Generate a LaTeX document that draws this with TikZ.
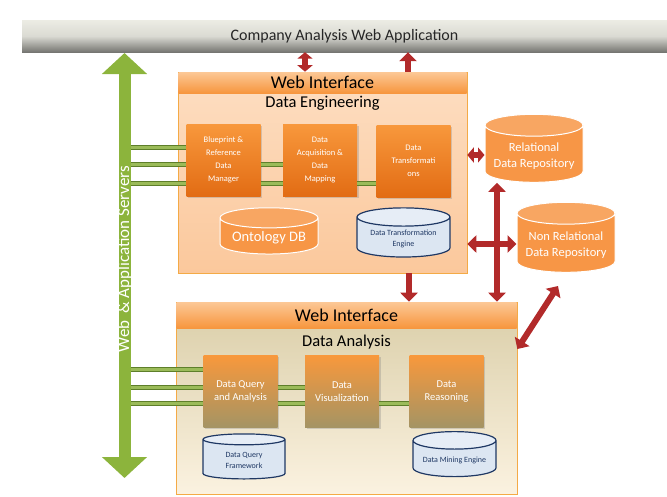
\documentclass[tikz,border=0pt]{standalone}
\usepackage{fontspec}
\setmainfont{Carlito}
\usetikzlibrary{arrows.meta,shapes.geometric,shadows}

\definecolor{barLight}{RGB}{236,236,228}
\definecolor{barDark}{RGB}{118,118,114}
\definecolor{panelLine}{RGB}{244,170,70}
\definecolor{peachTop}{RGB}{253,222,194}
\definecolor{peachBot}{RGB}{251,200,156}
\definecolor{headTop}{RGB}{252,200,150}
\definecolor{headBot}{RGB}{247,150,62}
\definecolor{khakiTop}{RGB}{218,206,168}
\definecolor{khakiBot}{RGB}{251,242,224}
\definecolor{modTop}{RGB}{248,152,60}
\definecolor{modBot}{RGB}{226,108,20}
\definecolor{oliveBot}{RGB}{164,148,100}
\definecolor{dbOrange}{RGB}{247,150,70}
\definecolor{dbBlue}{RGB}{220,230,242}
\definecolor{dbNavy}{RGB}{31,56,100}
\definecolor{linkDark}{RGB}{94,127,42}
\definecolor{linkLight}{RGB}{155,187,89}
\definecolor{srvGreen}{RGB}{140,180,60}
\definecolor{flowRed}{RGB}{178,42,42}

\tikzset{
  appbar/.style={rectangle, minimum width=645, minimum height=32,
    top color=barLight, bottom color=barDark, middle color=barLight!85!barDark,
    font=\fontsize{16}{18}\selectfont, text=black!85},
  panel/.style={rectangle, draw=panelLine, line width=0.6pt},
  header/.style={rectangle, top color=headTop, bottom color=headBot,
    font=\fontsize{18}{20}\selectfont},
  title/.style={font=\fontsize{16.5}{18}\selectfont},
  module/.style={rectangle, minimum width=74, minimum height=72, align=center,
    text=white, font=\fontsize{8.5}{13}\selectfont, top color=modTop, bottom color=modBot,
    drop shadow={shadow xshift=1.5pt, shadow yshift=-1.5pt, opacity=.3}},
  amodule/.style={module, top color=modTop, bottom color=oliveBot,
    font=\fontsize{10.5}{13}\selectfont},
  orangedb/.style={cylinder, shape border rotate=90, aspect=0.25, draw=white,
    line width=1pt, cylinder uses custom fill, cylinder body fill=dbOrange,
    cylinder end fill=dbOrange!85!white, text=white, align=center,
    font=\fontsize{12.5}{16}\selectfont},
  bluedb/.style={cylinder, shape border rotate=90, aspect=0.25, draw=dbNavy,
    line width=1.2pt, cylinder uses custom fill, cylinder body fill=dbBlue,
    cylinder end fill=dbBlue!70!white, text=dbNavy, align=center,
    font=\fontsize{8}{11}\selectfont},
  link/.style={draw=linkDark, line width=1pt, double=linkLight, double distance=3pt},
  flow/.style={draw=flowRed, line width=6pt, -{Triangle[width=17pt,length=9pt]}},
  flow2/.style={flow, {Triangle[width=17pt,length=9pt]}-{Triangle[width=17pt,length=9pt]}},
  flowshort/.style={flow, {Triangle[width=15pt,length=6.5pt]}-{Triangle[width=15pt,length=6.5pt]}},
}

\begin{document}
\begin{tikzpicture}[x=1pt,y=-1pt]
  \useasboundingbox (0,0) rectangle (667,496);

  % application bar on top
  \node[appbar] (app) at (344.5,36) {Company Analysis Web Application};

  % data engineering panel
  \node[panel, top color=peachTop, bottom color=peachBot, minimum width=289, minimum height=201] (de) at (322.5,172.5) {};
  \node[header, minimum width=288, minimum height=21] (deweb) at (322.5,82.5) {Web Interface};
  \node[title] (detitle) at (322.5,103) {Data Engineering};
  \node[module] (bp) at (223.5,160) {Blueprint \&\\Reference\\Data\\Manager};
  \node[module] (daq) at (320,160) {Data\\Acquisition \&\\Data\\Mapping};
  \node[module] (dtr) at (413.5,161) {Data\\Transformati\\ons};
  \node[orangedb, minimum width=98, minimum height=30, font=\fontsize{14.5}{16}\selectfont] (onto) at (269,238) {Ontology DB};
  \node[bluedb, minimum width=93, minimum height=36] (dte) at (403.5,239) {Data Transformation\\Engine};

  % repositories
  \node[orangedb, minimum width=98, minimum height=68] (rel) at (534,156) {Relational\\Data Repository};
  \node[orangedb, minimum width=98, minimum height=70] (nrel) at (566,245) {Non Relational\\Data Repository};

  % data analysis panel
  \node[panel, top color=khakiTop, bottom color=khakiBot, minimum width=341, minimum height=192] (da) at (346.5,398) {};
  \node[header, minimum width=340, minimum height=26] (daweb) at (346.5,315) {Web Interface};
  \node[title] (datitle) at (346.5,342) {Data Analysis};
  \node[amodule] (dqa) at (240.5,391.5) {Data Query\\and Analysis};
  \node[amodule] (dv) at (342,391.5) {Data\\Visualization};
  \node[amodule] (dr) at (446.5,391.5) {Data\\Reasoning};
  \node[bluedb, minimum width=82, minimum height=45] (dqf) at (244,460.5) {Data Query\\Framework};
  \node[bluedb, minimum width=83, minimum height=45] (dme) at (454.5,460.5) {Data Mining Engine};

  % green links
  \coordinate (srvx) at (124,0);
  \draw[link] (srvx |- 0,147) -- (bp.west |- 0,147);
  \draw[link] (srvx |- 0,164) -- (bp.west |- 0,164);
  \draw[link] (srvx |- 0,183) -- (bp.west |- 0,183);
  \draw[link] (bp.east |- 0,164) -- (daq.west |- 0,164);
  \draw[link] (bp.east |- 0,183) -- (daq.west |- 0,183);
  \draw[link] (daq.east |- 0,183) -- (dtr.west |- 0,183);
  \draw[link] (srvx |- 0,369) -- (dqa.west |- 0,369);
  \draw[link] (srvx |- 0,387) -- (dqa.west |- 0,387);
  \draw[link] (srvx |- 0,403) -- (dqa.west |- 0,403);
  \draw[link] (dqa.east |- 0,387) -- (dv.west |- 0,387);
  \draw[link] (dqa.east |- 0,403) -- (dv.west |- 0,403);
  \draw[link] (dv.east |- 0,403) -- (dr.west |- 0,403);

  % web and application servers
  \coordinate (srvtop) at (124.5,53);
  \coordinate (srvbot) at (124.5,478);
  \draw[srvGreen, line width=12pt, {Triangle[width=44pt,length=21pt]}-{Triangle[width=44pt,length=21pt]}]
    (srvtop) -- (srvbot);
  \node[rotate=90, text=white, font=\fontsize{17}{19}\selectfont] (srv) at (124.5,259) {Web \,\& Application Servers};

  % red flows
  \draw[flowshort] (app.south -| 305,0) -- (de.north -| 305,0);
  \draw[flow] (de.north -| 408,0) -- (app.south -| 408,0);
  \draw[flow] (de.south -| 409,0) -- (da.north -| 409,0);
  \draw[flow2] (rel.south -| 497,0) -- (da.north -| 497,0);
  \draw[flowshort] (de.east |- 0,155) -- (rel.west |- 0,155);
  \draw[flow2] (de.east |- 0,244) -- (nrel.west |- 0,244);
  \draw[flow2] (558,286) -- (da.east |- 0,349);
\end{tikzpicture}
\end{document}
